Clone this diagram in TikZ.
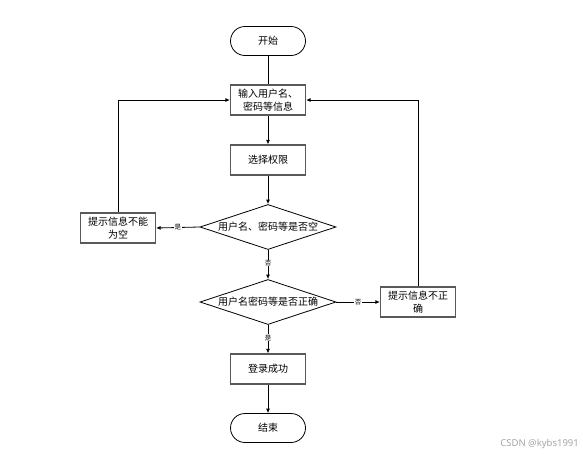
\documentclass[tikz,border=0pt]{standalone}
\usepackage{fontspec}
\newfontfamily\cjk{Noto Sans CJK SC}
\usetikzlibrary{shapes.geometric,arrows.meta}
\begin{document}
\begin{tikzpicture}[x=1pt,y=-1pt,
  every node/.style={font=\cjk\fontsize{10}{12.5}\selectfont, align=center, inner sep=1pt},
  proc/.style={draw=black!65, line width=1.2pt, minimum width=75pt, minimum height=30pt},
  term/.style={draw=black, line width=0.8pt, rounded corners=14.5pt, minimum width=75pt, minimum height=29pt},
  dec/.style={draw=black, line width=0.8pt, diamond, aspect=3, minimum width=136pt, minimum height=45pt, inner sep=0pt},
  line/.style={line width=0.8pt},
  conn/.style={line width=0.8pt, -{Latex[length=4.5pt,width=4pt]}},
  lbl/.style={font=\cjk\fontsize{6.5}{7}\selectfont, fill=white, inner sep=0.5pt}]
\useasboundingbox (0,0) rectangle (583,458);
\node[term] (start) at (268,41) {开始};
\node[proc] (input) at (268,100) {输入用户名、\\密码等信息};
\node[proc] (perm) at (268,160) {选择权限};
\node[dec] (d1) at (268,227) {用户名、密码等是否空};
\node[proc] (empty) at (118,228) {提示信息不能\\为空};
\node[dec] (d2) at (268,302) {用户名密码等是否正确};
\node[proc] (wrong) at (418,302) {提示信息不正\\确};
\node[proc] (ok) at (268,369) {登录成功};
\node[term] (end) at (268,428) {结束};
\draw[line] (start) -- (input);
\draw[conn] (input) -- (perm);
\draw[conn] (perm) -- (d1);
\draw[conn] (d1.west) -- node[lbl]{是} (empty.east);
\draw[conn] (d1.south) -- node[lbl, pos=0.45]{否} (d2.north);
\draw[conn] (d2.east) -- node[lbl]{否} (wrong.west);
\draw[conn] (d2.south) -- node[lbl, pos=0.45]{是} (ok.north);
\draw[conn] (ok) -- (end);
\draw[conn] (empty.north) |- (input.west);
\draw[conn] (wrong.north) |- (input.east);
\node[font=\fontspec{Noto Sans}\fontsize{9.5}{11}\selectfont, text=black!35, anchor=east] (wm) at (580,444) {CSDN @kybs1991};
\end{tikzpicture}
\end{document}
